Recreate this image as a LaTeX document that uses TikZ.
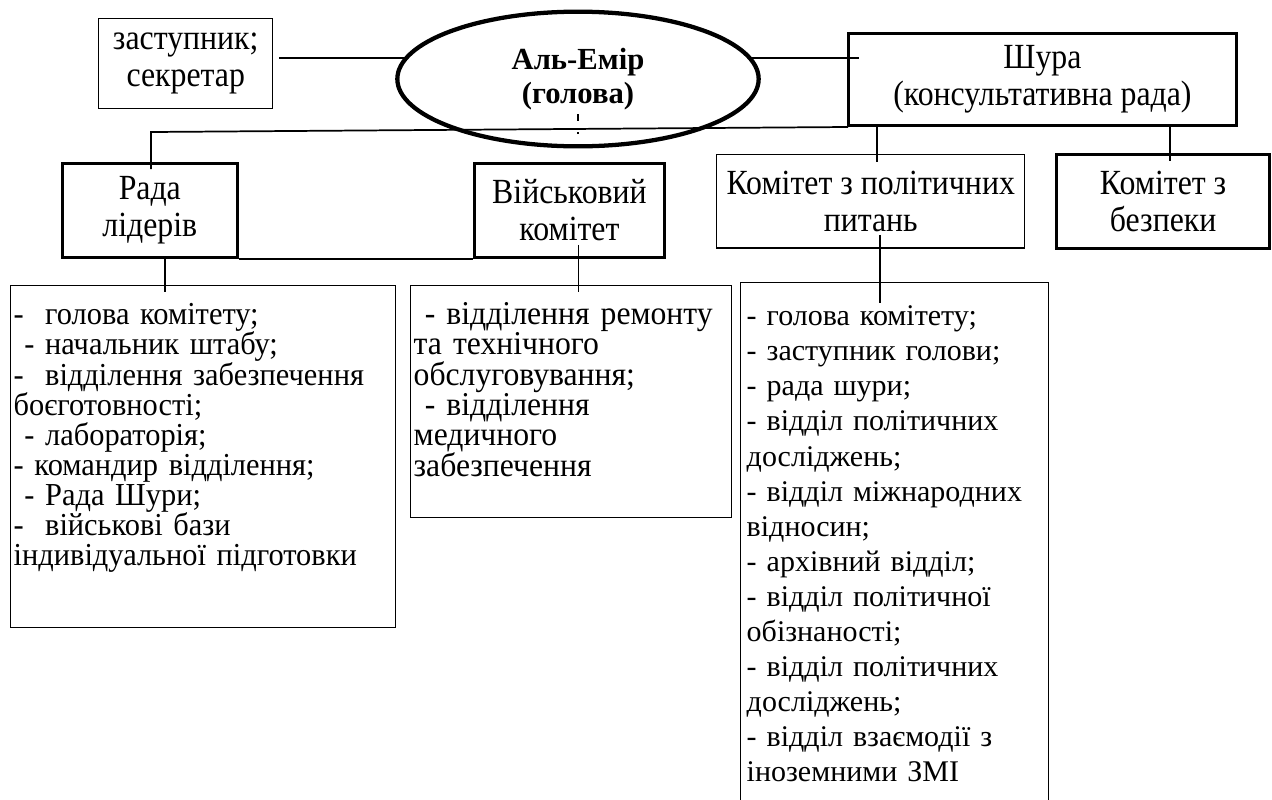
\documentclass[tikz,border=0pt]{standalone}
\usepackage{fontspec}
\setmainfont{Liberation Serif}
\newfontfamily\narrowserif[FakeStretch=0.9]{Liberation Serif}
\newfontfamily\listserif[FakeStretch=0.95]{Liberation Serif}
\usepackage{tikz}
\usetikzlibrary{shapes.geometric}

\begin{document}
\begin{tikzpicture}[x=0.75pt,y=-0.75pt,line width=1.3pt]
\tikzstyle{every node} = [font = \narrowserif\fontsize{26.5}{27.75}\selectfont]
\tikzstyle{thinbox} = [draw, line width=1.1pt, align=center, anchor=north west]
\tikzstyle{thickbox} = [draw, line width=2.2pt, align=center, anchor=north west]
\tikzstyle{listbox} = [draw, line width=1.1pt, align=left, anchor=north west, inner ysep=0pt,
	font = \listserif\fontsize{24}{22.6}\selectfont]
	\useasboundingbox (0,0) rectangle (1272,800);
	% top row
	\node [thinbox, minimum width=130.5pt, minimum height=67.5pt] (deputy) at (98,18) {заступник;\\секретар};
	\node [ellipse, draw, line width=3.2pt, minimum width=271pt, minimum height=101pt, align=center,
		font = \rmfamily\bfseries\fontsize{23}{25.5}\selectfont] (emir) at (578,79) {Аль-Емір\\(голова)};
	\node [thickbox, minimum width=291pt, minimum height=69pt] (shura) at (847,32) {Шура\\(консультативна рада)};
	% second row
	\node [thickbox, minimum width=131pt, minimum height=70.5pt] (rada) at (61,162) {Рада\\лідерів};
	\node [thickbox, minimum width=142.5pt, minimum height=70.5pt] (mil) at (473,162) {Військовий\\комітет};
	\node [thinbox, minimum width=231pt, minimum height=70pt] (polit) at (716,154) {Комітет з політичних\\питань};
	\node [thickbox, minimum width=160pt, minimum height=70.5pt] (secur) at (1055,153) {Комітет з\\безпеки};
	% lists
	\node [listbox, inner xsep=2.25pt, text width=284pt, text height=29.25pt, text depth=227pt] (lst1) at (10,285) {%
		-\ \ голова комітету;\\
		\ - начальник штабу;\\
		-\ \ відділення забезпечення\\
		боєготовності;\\
		\ - лабораторія;\\
		- командир відділення;\\
		\ - Рада Шури;\\
		-\ \ військові бази\\
		індивідуальної підготовки};
	\node [listbox, inner xsep=2.25pt, text width=236pt, text height=29.25pt, text depth=144.75pt,
		font = \listserif\fontsize{25}{22.6}\selectfont] (lst2) at (410,285) {%
		\ - відділення ремонту\\
		та технічного\\
		обслуговування;\\
		\ - відділення\\
		медичного\\
		забезпечення};
	\node [listbox, inner xsep=4.5pt, text width=222pt, text height=32.25pt, text depth=364pt,
		font = \rmfamily\fontsize{22.5}{26.3}\selectfont] (lst3) at (740,282) {%
		- голова комітету;\\
		- заступник голови;\\
		- рада шури;\\
		- відділ політичних\\
		досліджень;\\
		- відділ міжнародних\\
		відносин;\\
		- архівний відділ;\\
		- відділ політичної\\
		обізнаності;\\
		- відділ політичних\\
		досліджень;\\
		- відділ взаємодії з\\
		іноземними ЗМІ};
	% connectors
	\coordinate (busL) at (151,132);
	\coordinate (busR) at (848,127);
	\draw ([xshift=4.5pt]deputy.east |- emir.173) -- (emir.173);
	\draw (emir.7) -- ([xshift=9pt]emir.7 -| shura.west);
	\draw (busR) -- (busL) -- ([yshift=-5.25pt]busL |- rada.north);
	\draw [dash pattern=on 5.25pt off 8.25pt on 1.5pt off 3pt] ([yshift=25.5pt]emir.south) -- ([yshift=8.25pt]emir.south);
	\draw (rada.south east) -- (mil.south west);
	\draw ([xshift=11.6pt]rada.south) -- ([xshift=11.6pt,yshift=-5.25pt]rada.south |- lst1.north);
	\draw ([xshift=6.75pt,yshift=10.5pt]mil.south) -- ([xshift=6.75pt,yshift=-5.25pt]mil.south |- lst2.north);
	\draw ([xshift=4.5pt]polit.north |- shura.south) -- ([xshift=4.5pt,yshift=-6pt]polit.north);
	\draw ([xshift=4.9pt]secur.north |- shura.south) -- ([xshift=4.9pt,yshift=-6pt]secur.north);
	\draw ([xshift=6.75pt,yshift=10.5pt]polit.south) -- ([xshift=6.75pt,yshift=-15.75pt]polit.south |- lst3.north);
\end{tikzpicture}
\end{document}
